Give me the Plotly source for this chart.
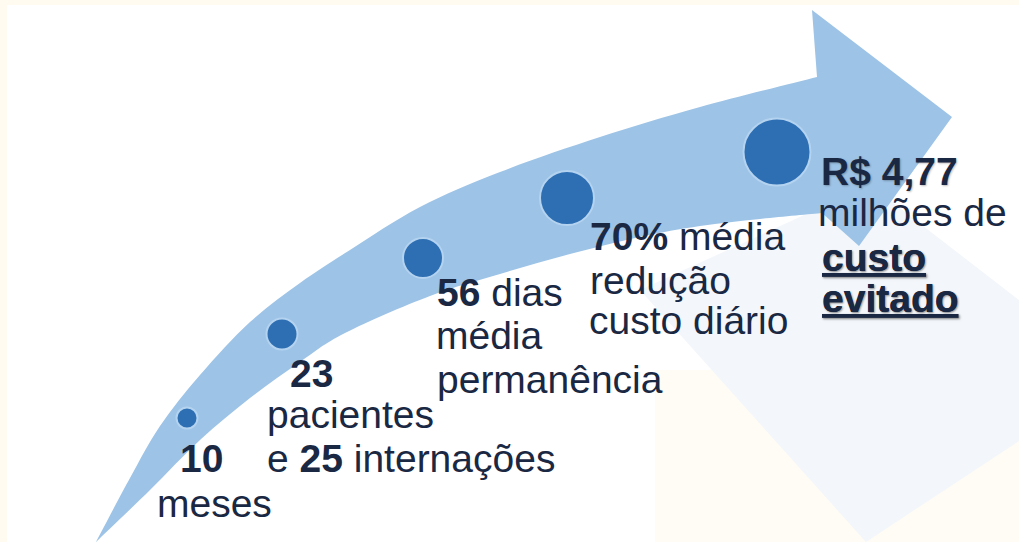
import plotly.graph_objects as go

W, H = 1019, 542

# ---- data: milestones along the arrow ----
stage_values = ["10", "23", "56", "70%", "R$ 4,77"]
stage_x = [187, 282, 423, 567, 777]
stage_y = [418, 334, 258, 198, 152]
stage_diam = [21, 31, 40, 54, 67]

# ---- text lines (one annotation per line) ----
label_text = [
    "<b>10</b>", "meses",
    "<b>23</b>", "pacientes", "e <b>25</b> internações",
    "<b>56</b> dias", "média", "permanência",
    "<b>70%</b> média", "redução", "custo diário",
    "<b>R$ 4,77</b>", "milhões de", "<b><u>custo</u></b>", "<b><u>evitado</u></b>",
]
label_x = [180, 157, 290, 267, 267, 437, 436, 437, 590, 590, 589, 821, 818, 822, 822]
label_base = [472, 517, 387, 428, 472, 306, 349, 393, 250, 294, 334, 185, 226, 271, 312]

FONT = "Liberation Sans, Arial, Helvetica, sans-serif"
FS = 39
TXT = "#1A2843"

# ---- decorative arrow outline ----
upper_edge = [(96, 542), (130, 478), (160, 426), (200, 375), (250, 322), (300, 283),
              (350, 250), (420, 207), (500, 172), (600, 137), (700, 107), (817, 77)]
lower_edge = [(96, 542), (150, 490), (200, 440), (250, 398), (300, 362), (345, 333),
              (430, 296), (500, 274), (570, 254), (640, 237), (700, 226), (760, 219), (822, 213)]
head = [(817, 77), (812, 10), (952, 117), (859, 246), (822, 213)]


def cr_path(pts, start=True):
    s = ("M %g %g " if start else "L %g %g ") % pts[0]
    n = len(pts)
    for i in range(n - 1):
        p0 = pts[i - 1] if i > 0 else pts[i]
        p1 = pts[i]
        p2 = pts[i + 1]
        p3 = pts[i + 2] if i + 2 < n else pts[i + 1]
        c1 = (p1[0] + (p2[0] - p0[0]) / 6, p1[1] + (p2[1] - p0[1]) / 6)
        c2 = (p2[0] - (p3[0] - p1[0]) / 6, p2[1] - (p3[1] - p1[1]) / 6)
        s += "C %.1f %.1f %.1f %.1f %.1f %.1f " % (c1[0], c1[1], c2[0], c2[1], p2[0], p2[1])
    return s


path = cr_path(upper_edge)
for p in head[1:]:
    path += "L %g %g " % p
path += cr_path(lower_edge[::-1], start=False) + "Z"

shapes = [
    # faint background pieces
    dict(type="rect", x0=0, x1=W, y0=0, y1=5, fillcolor="#FFFBF1", line_width=0, layer="below"),
    dict(type="rect", x0=0, x1=7, y0=0, y1=H, fillcolor="#FFFBF1", line_width=0, layer="below"),
    dict(type="path", path="M 655 370 L 1019 370 L 1019 542 L 655 542 Z",
         fillcolor="#FFFCF5", line_width=0, layer="below"),
    dict(type="path", path="M 640 290 L 870 185 L 1019 300 L 1019 441 L 866 542 Z",
         fillcolor="#F3F6FA", line_width=0, layer="below"),
    dict(type="path", path=path, fillcolor="#9DC3E6", line_width=0, layer="below"),
]

fig = go.Figure()
fig.add_trace(go.Scatter(
    x=stage_x, y=stage_y, mode="markers",
    marker=dict(size=stage_diam, color="#2E6FB3", opacity=1,
                line=dict(color="#B4D3F0", width=2)),
    text=stage_values, hoverinfo="text", showlegend=False,
))

annotations = []
for t, x, b in zip(label_text, label_x, label_base):
    shadow = "1px 1px 2px rgba(0,0,0,0.25)" if t.startswith("<b>R") or "<u>" in t else "none"
    annotations.append(dict(
        text=t, x=x, y=b - 0.35 * FS, xref="x", yref="y",
        xanchor="left", yanchor="middle", showarrow=False,
        borderpad=0, borderwidth=0,
        font=dict(family=FONT, size=FS, color=TXT, shadow=shadow),
    ))

fig.update_layout(
    width=W, height=H,
    margin=dict(l=0, r=0, t=0, b=0),
    paper_bgcolor="#FFFFFF", plot_bgcolor="rgba(0,0,0,0)",
    xaxis=dict(range=[0, W], visible=False, fixedrange=True),
    yaxis=dict(range=[H, 0], visible=False, fixedrange=True),
    shapes=shapes, annotations=annotations,
    showlegend=False,
)

fig.write_html("out.html", config={"displayModeBar": False})
